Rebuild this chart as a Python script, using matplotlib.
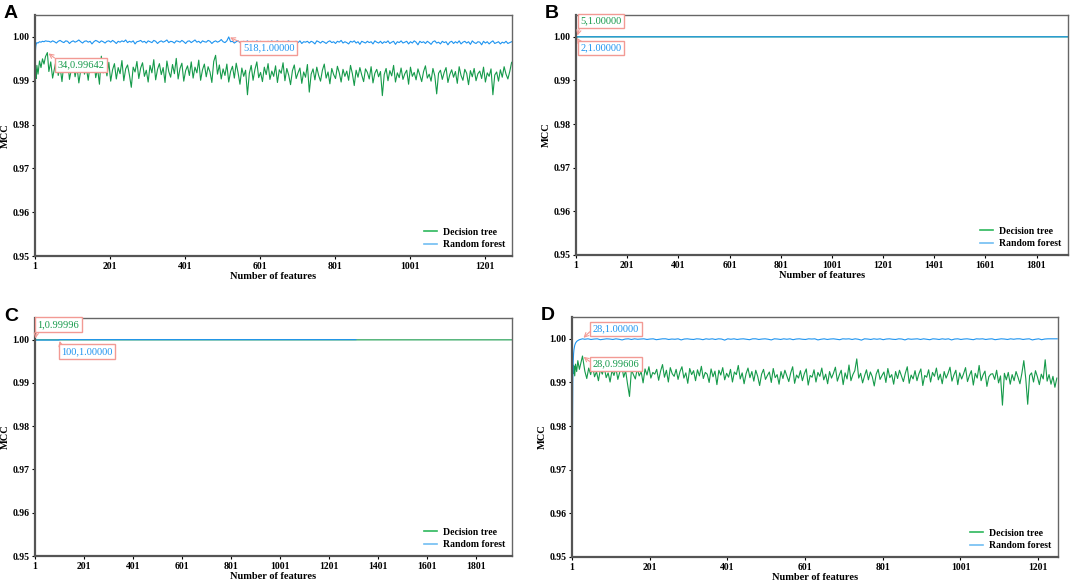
import matplotlib.pyplot as plt
from matplotlib.lines import Line2D
import numpy as np

plt.rcParams['font.family'] = ['Liberation Serif', 'DejaVu Serif']

GREEN = '#159a4a'
BLUE = '#1e94f0'
SALMON = '#f29a94'

# ---------------- panel A ----------------
feat_a = [1, 2, 3, 4, 6, 9, 13, 17, 21, 25, 29, 34] + list(range(38, 1274, 5))
dt_a_start = [0.9820, 0.9900, 0.9925, 0.9905, 0.9935, 0.9915, 0.9945, 0.9930,
              0.9950, 0.9938, 0.9955, 0.99642]
# rest of the curve, units of 1e-4 above 0.98
dt_a_rest = [
    121, 143, 106, 128, 150, 112, 131, 98, 138, 119,
    147, 103, 126, 140, 109, 133, 95, 124, 145, 115,
    130, 101, 137, 122, 149, 107, 128, 92, 156, 118,
    134, 111, 142, 99, 125, 139, 104, 130, 116, 146,
    100, 127, 136, 113, 85, 131, 120, 144, 105, 129,
    141, 110, 124, 97, 135, 118, 148, 102, 126, 139,
    114, 130, 96, 145, 121, 108, 137, 116, 151, 104,
    128, 140, 99, 123, 134, 112, 143, 106, 131, 118,
    147, 101, 125, 138, 109, 132, 120, 96, 144, 158,
    115, 136, 104, 127, 112, 138, 97, 121, 133, 106,
    140, 118, 92, 129, 110, 124, 68, 117, 135, 101,
    126, 143, 107, 119, 98, 131, 114, 139, 103, 122,
    110, 134, 96, 125, 117, 141, 100, 128, 113, 91,
    123, 136, 105, 118, 129, 94, 120, 108, 137, 74,
    115, 127, 102, 131, 112, 99, 124, 138, 106, 120,
    93, 128, 114, 105, 133, 118, 97, 126, 110, 122,
    101, 135, 116, 89, 124, 108, 130, 113, 98, 127,
    119, 104, 132, 95, 117, 126, 109, 121, 66, 114,
    128, 100, 123, 111, 135, 97, 118, 107, 129, 103,
    116, 124, 92, 131, 110, 119, 102, 127, 113, 98,
    121, 134, 106, 115, 99, 128, 111, 70, 117, 124,
    103, 119, 130, 96, 114, 125, 108, 121, 94, 132,
    112, 101, 126, 117, 91, 123, 109, 128, 100, 116,
    122, 105, 131, 97, 118, 110, 127, 68, 113, 120,
    99, 125, 108, 132, 115, 104, 121, 142]
rf_a_start = [0.9955, 0.9968, 0.9978, 0.9983, 0.9987, 0.9986, 0.9989, 0.9988,
              0.9990, 0.9989, 0.9991, 0.9990]
rf_a_rest = [
    190, 188, 191, 189, 186, 190, 192, 189, 187, 191,
    190, 185, 189, 191, 188, 190, 193, 189, 186, 190,
    191, 188, 190, 184, 189, 192, 190, 187, 191, 189,
    186, 190, 191, 188, 192, 189, 185, 190, 188, 191,
    189, 193, 187, 190, 188, 191, 184, 189, 190, 192,
    188, 190, 186, 191, 189, 187, 192, 190, 185, 189,
    191, 188, 190, 193, 187, 190, 189, 186, 191, 190,
    188, 192, 189, 185, 190, 191, 187, 190, 193, 188,
    190, 186, 191, 189, 188, 192, 190, 185, 189, 191,
    188, 190, 194, 189, 187, 191, 200, 189, 190, 186,
    189, 191, 187, 184, 190, 188, 191, 186, 189, 190,
    185, 191, 188, 190, 187, 189, 183, 190, 188, 191,
    186, 189, 191, 188, 185, 190, 187, 189, 191, 186,
    179, 189, 190, 187, 191, 185, 189, 188, 190, 186,
    190, 188, 184, 191, 189, 186, 190, 188, 185, 189,
    191, 187, 189, 185, 190, 188, 192, 186, 189, 187,
    184, 190, 188, 191, 186, 189, 183, 190, 188, 186,
    190, 187, 189, 184, 191, 188, 186, 190, 185, 189,
    187, 191, 185, 188, 190, 183, 189, 187, 191, 186,
    188, 190, 184, 189, 186, 191, 188, 182, 190, 187,
    189, 185, 190, 187, 183, 189, 191, 186, 188, 184,
    190, 187, 189, 182, 188, 190, 185, 189, 186, 191,
    184, 188, 190, 186, 189, 183, 191, 187, 185, 189,
    188, 182, 190, 186, 189, 184, 188, 191, 185, 187,
    189, 184, 188, 186, 190, 185, 187, 189]

# ---------------- panel B ----------------
n_dt_b = 1924
n_rf_b = 1924
dt_b_start = [0.930, 0.9980, 0.9995, 0.9998, 1.0]
rf_b_start = [0.9996, 1.0]

# ---------------- panel C ----------------
n_dt_c = 1947
n_rf_c = 1310
dt_c_first = 0.99996
dt_c_level = 0.99995
rf_c_early = 0.9999      # features 1..99
rf_c_level = 1.0         # from feature 100

# ---------------- panel D ----------------
early_d = [1, 2, 3, 4, 5, 6, 8, 10, 13, 16, 20, 24, 28]
feat_d_dt = early_d + list(range(34, 1250, 5))
feat_d_rf = early_d + list(range(34, 1251, 8))
dt_d_start = [0.930, 0.9935, 0.9925, 0.9940, 0.9920, 0.9938, 0.9915, 0.9942,
              0.9925, 0.9950, 0.9930, 0.9945, 0.99606]
# units of 1e-4 above 0.98
dt_d_rest = [
    126, 109, 133, 118, 138, 113, 125, 104, 130, 119,
    135, 111, 122, 101, 128, 116, 133, 107, 124, 139,
    112, 127, 96, 68, 129, 118, 108, 132, 115, 125,
    99, 131, 117, 136, 110, 123, 119, 130, 105, 126,
    141, 112, 128, 101, 134, 120, 114, 130, 107, 125,
    136, 110, 122, 98, 132, 118, 127, 104, 129, 115,
    137, 109, 123, 119, 100, 131, 113, 126, 95, 128,
    117, 134, 106, 121, 112, 130, 101, 124, 118, 139,
    108, 122, 97, 120, 133, 111, 125, 103, 128, 114,
    93, 119, 130, 107, 116, 124, 100, 132, 111, 118,
    96, 125, 109, 128, 115, 102, 122, 136, 98, 117,
    110, 127, 104, 120, 131, 94, 116, 112, 129, 101,
    123, 114, 133, 106, 119, 97, 125, 110, 121, 135,
    103, 117, 128, 95, 122, 108, 140, 104, 118, 127,
    154, 110, 121, 99, 115, 129, 106, 124, 113, 92,
    119, 130, 107, 116, 124, 100, 132, 111, 118, 96,
    125, 109, 128, 115, 102, 121, 136, 98, 117, 108,
    127, 104, 120, 131, 93, 116, 112, 129, 101, 123,
    114, 133, 106, 119, 97, 125, 110, 121, 135, 103,
    117, 128, 95, 122, 108, 120, 134, 102, 116, 127,
    94, 121, 110, 139, 104, 117, 126, 91, 113, 119,
    120, 107, 128, 99, 115, 48, 121, 106, 123, 96,
    118, 104, 125, 112, 97, 121, 150, 109, 50, 116,
    122, 101, 127, 113, 95, 119, 108, 152, 103, 118,
    96, 114, 89, 110]
rf_d_start = [0.900, 0.975, 0.990, 0.9945, 0.9965, 0.9975, 0.9985, 0.9990,
              0.9994, 0.9996, 0.9998, 0.9999, 1.0]
# gap below 1.0, units of 5e-5
rf_d_gap = [
    2, 0, 3, 1, 0, 4, 2, 0, 1, 3,
    0, 2, 5, 1, 0, 3, 0, 2, 1, 0,
    3, 1, 0, 4, 2, 0, 0, 3, 1, 2,
    0, 5, 1, 0, 2, 3, 0, 1, 4, 0,
    2, 0, 3, 0, 1, 6, 0, 2, 0, 3,
    1, 0, 2, 4, 0, 0, 3, 1, 0, 2,
    5, 0, 1, 3, 0, 2, 0, 4, 1, 0,
    2, 3, 0, 1, 0, 5, 2, 0, 3, 1,
    0, 2, 4, 0, 1, 0, 3, 0, 2, 6,
    0, 1, 3, 0, 2, 0, 4, 1, 0, 2,
    3, 0, 1, 5, 0, 2, 1, 0, 3, 0,
    2, 4, 0, 1, 3, 0, 2, 0, 5, 1,
    0, 3, 1, 0, 2, 4, 0, 1, 0, 3,
    1, 0, 4, 2, 0, 1, 3, 0, 2, 0,
    0, 3, 1, 0, 5, 2, 0, 4, 1, 0,
    0, 0, 0]

# ---------------- build series ----------------
dt_a = np.concatenate([dt_a_start, 0.98 + np.array(dt_a_rest) * 1e-4])
rf_a = np.concatenate([rf_a_start, 0.98 + np.array(rf_a_rest) * 1e-4])

x_dt_b = np.arange(1, n_dt_b + 1)
dt_b = np.concatenate([dt_b_start, np.full(n_dt_b - len(dt_b_start), 1.0)])
x_rf_b = np.arange(1, n_rf_b + 1)
rf_b = np.concatenate([rf_b_start, np.full(n_rf_b - len(rf_b_start), 1.0)])

x_dt_c = np.arange(1, n_dt_c + 1)
dt_c = np.concatenate([[dt_c_first], np.full(n_dt_c - 1, dt_c_level)])
x_rf_c = np.arange(1, n_rf_c + 1)
rf_c = np.concatenate([np.full(99, rf_c_early), np.full(n_rf_c - 99, rf_c_level)])

dt_d = np.concatenate([dt_d_start, 0.98 + np.array(dt_d_rest) * 1e-4])
rf_d = np.concatenate([rf_d_start, 1.0 - np.array(rf_d_gap) * 5e-5])

# ---------------- figure ----------------
fig = plt.figure(figsize=(10.72, 5.83), dpi=100)


def best(x, y):
    i = int(np.argmax(y))
    return x[i], y[i]


def panel(rect, letter, x_dt, y_dt, x_rf, y_rf, xmax, xticks, notes):
    ax = fig.add_axes(rect)
    ax.plot(x_dt, y_dt, color=GREEN, lw=0.8)
    ax.plot(x_rf, y_rf, color=BLUE, lw=0.8)
    ax.set_xlim(1, xmax)
    ax.set_ylim(0.95, 1.005)
    ax.set_xticks(xticks)
    ax.set_yticks([0.95, 0.96, 0.97, 0.98, 0.99, 1.00])
    ax.set_yticklabels(['%.2f' % v for v in ax.get_yticks()])
    ax.tick_params(direction='out', length=2.5, width=0.8, labelsize=7, pad=1.5)
    for lab in ax.get_xticklabels() + ax.get_yticklabels():
        lab.set_fontweight('bold')
    for side in ['left', 'bottom']:
        ax.spines[side].set_linewidth(1.6)
        ax.spines[side].set_color('#555555')
    for side in ['top', 'right']:
        ax.spines[side].set_linewidth(1.0)
        ax.spines[side].set_color('#666666')
    ax.set_xlabel('Number of features', fontsize=7.5, fontweight='bold', labelpad=1)
    ax.set_ylabel('MCC', fontsize=7.5, fontweight='bold', labelpad=2)

    handles = [Line2D([], [], color='#2eb85c', lw=1.2),
               Line2D([], [], color='#71bdf2', lw=1.2)]
    ax.legend(handles, ['Decision tree', 'Random forest'], loc='lower right',
              frameon=False, handlelength=1.3, handletextpad=0.6,
              labelspacing=0.35, borderaxespad=0.3,
              prop={'family': 'Liberation Serif', 'weight': 'bold', 'size': 7})

    series = {'dt': (x_dt, y_dt, GREEN), 'rf': (x_rf, y_rf, BLUE)}
    for key, tx, ty, rel in notes:
        xs, ys, col = series[key]
        bx, by = best(xs, ys)
        ax.annotate('%d,%.5f' % (bx, by), xy=(bx, by), xytext=(tx, ty),
                    color=col, fontsize=7.5, ha='center', va='center',
                    bbox=dict(boxstyle='square,pad=0.25', fc='white',
                              ec=SALMON, lw=1.0),
                    arrowprops=dict(arrowstyle='->', color=SALMON, lw=0.8,
                                    relpos=rel, shrinkA=0, shrinkB=1))

    fig.text(rect[0] - 31 / 1072, rect[1] + rect[3] + 10 / 583, letter,
             family='Liberation Sans', fontweight='bold', fontsize=14,
             ha='left', va='top')
    return ax


panel([35 / 1072, 1 - 256 / 583, 477 / 1072, 241 / 583], 'A',
      feat_a, dt_a, feat_a, rf_a, 1274, range(1, 1202, 200),
      [('dt', 124, 0.99364, (0, 1)), ('rf', 625, 0.9975, (0, 1))])
panel([576 / 1072, 1 - 255 / 583, 492 / 1072, 240 / 583], 'B',
      x_dt_b, dt_b, x_rf_b, rf_b, 1924, range(1, 1802, 200),
      [('dt', 98, 1.0036, (0, 0)), ('rf', 98, 0.9975, (0, 1))])
panel([35 / 1072, 1 - 556 / 583, 477 / 1072, 238 / 583], 'C',
      x_dt_c, dt_c, x_rf_c, rf_c, 1947, range(1, 1802, 200),
      [('dt', 95, 1.0035, (0, 0)), ('rf', 213, 0.99724, (0, 1))])
panel([572 / 1072, 1 - 557 / 583, 486 / 1072, 240 / 583], 'D',
      feat_d_dt, dt_d, feat_d_rf, rf_d, 1252, range(1, 1202, 200),
      [('rf', 114, 1.0023, (0, 0.5)), ('dt', 114, 0.99429, (0, 0.5))])

fig.savefig('out.png', dpi=100)
